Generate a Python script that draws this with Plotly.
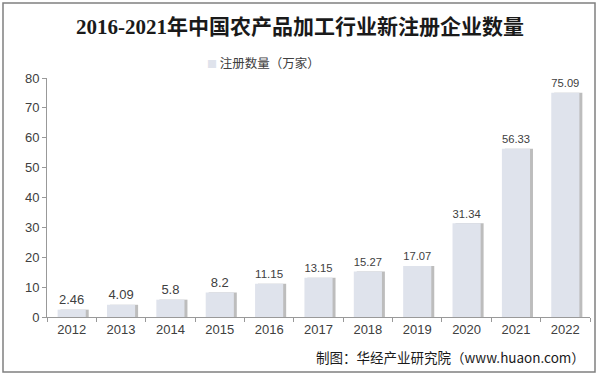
import plotly.graph_objects as go

years = ["2012", "2013", "2014", "2015", "2016", "2017", "2018", "2019", "2020", "2021", "2022"]
counts = [2.46, 4.09, 5.8, 8.2, 11.15, 13.15, 15.27, 17.07, 31.34, 56.33, 75.09]
labels = ["2.46", "4.09", "5.8", "8.2", "11.15", "13.15", "15.27", "17.07", "31.34", "56.33", "75.09"]
y_ticks = [0, 10, 20, 30, 40, 50, 60, 70, 80]
series_name = "注册数量（万家）"

W, H = 600, 378
L, R, T, B = 47, 10, 78, 61
pw, ph = W - L - R, H - T - B

def px(x):
    return (x - L) / pw

def py(y):
    return (H - B - y) / ph

fig = go.Figure()
# shadow
fig.add_trace(go.Bar(
    x=years, y=counts, width=0.57, offset=-0.285 + 0.06,
    marker=dict(color="rgba(90,90,90,0.40)", line=dict(width=0)),
    hoverinfo="skip", showlegend=False,
))
fig.add_trace(go.Bar(
    x=years, y=counts, width=0.57, offset=-0.285,
    name=series_name, showlegend=False,
    marker=dict(color="#dfe3ec", line=dict(width=0)),
    text=labels, textposition="outside", cliponaxis=False,
    textfont=dict(family="Liberation Sans, Arial", size=13, color="#404040"),
))

fig.update_layout(
    width=W, height=H, barmode="overlay",
    margin=dict(l=L, r=R, t=T, b=B),
    paper_bgcolor="white", plot_bgcolor="white",
    title=dict(text="<b>2016-2021年中国农产品加工行业新注册企业数量</b>", x=0.5, xanchor="center",
               y=1 - 27 / H, yanchor="middle",
               font=dict(family="Liberation Serif, Noto Sans CJK SC", size=21, color="#1a1a1a")),
    font=dict(family="Liberation Sans, Arial", size=13, color="#404040"),
)
fig.update_xaxes(showline=True, linecolor="#999999", linewidth=1, ticks="outside",
                 tickson="boundaries", ticklen=4, tickcolor="#999999",
                 tickfont=dict(size=13, color="#404040"), showgrid=False)
fig.update_yaxes(range=[0, 80], tickvals=y_ticks, showline=True, linecolor="#999999", linewidth=1,
                 ticks="outside", ticklen=4, tickcolor="#999999", showgrid=False, zeroline=False,
                 tickfont=dict(size=13, color="#404040"))

# legend (custom, small square marker)
fig.add_annotation(text="<span style='color:#dfe3ec;font-size:10px'>■</span> " + series_name,
                   xref="paper", yref="paper",
                   x=px(263), y=py(62), xanchor="center", yanchor="middle", showarrow=False,
                   font=dict(family="Noto Sans CJK SC", size=12.5, color="#404040"))

# outer border
fig.add_shape(type="rect", xref="paper", yref="paper",
              x0=px(3), x1=px(595), y0=py(372), y1=py(3),
              line=dict(color="#808080", width=1.5), fillcolor="rgba(0,0,0,0)", layer="below")

fig.add_annotation(text="制图：华经产业研究院（www.huaon.com）", xref="paper", yref="paper",
                   x=px(587), y=py(357), xanchor="right", yanchor="middle", showarrow=False,
                   font=dict(family="Noto Sans CJK SC", size=13.5, color="#1a1a1a"))

fig.write_html("out.html", config={"displayModeBar": False},
               post_script="document.body.style.margin='0';")
